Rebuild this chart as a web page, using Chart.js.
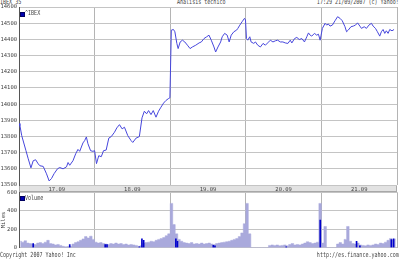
<!DOCTYPE html>
<html>
<head>
<meta charset="utf-8">
<script src="https://cdn.jsdelivr.net/npm/chart.js@4.4.1/dist/chart.umd.min.js"></script>
<style>
  body { margin:0; width:400px; height:259px; position:relative; background:#fff; overflow:hidden; }
  .caja { position:absolute; left:0; width:400px; }
  .t { position:absolute; font:7px 'DejaVu Sans Mono', monospace; line-height:7px; color:#444; white-space:nowrap; transform:scaleX(0.72); }
  .izq { transform-origin:left top; }
  .der { transform-origin:right top; }
  .cen { transform-origin:center top; }
  .cuadro { position:absolute; width:3px; height:3px; background:#0000b0; border:0.5px solid #000060; }
</style>
</head>
<body>
<div class="t izq" style="left:0;top:-1px">IBEX 35</div>
<div class="t cen" style="left:168px;top:-1px;width:64px;text-align:center">Análisis técnico</div>
<div class="t der" style="right:1px;top:-1px">17:29 21/09/2007 (c) Yahoo!</div>

<div class="caja" style="top:0;height:193px"><canvas id="graficoPrecio"></canvas></div>
<div class="caja" style="top:187px;height:66px"><canvas id="graficoVolumen"></canvas></div>

<div class="cuadro" style="left:20px;top:12px"></div>
<div class="t izq" style="left:25px;top:10px">^IBEX</div>
<div class="cuadro" style="left:20px;top:196px"></div>
<div class="t izq" style="left:25px;top:195px">Volume</div>

<div class="t izq" style="left:0;top:252px">Copyright 2007 Yahoo! Inc</div>
<div class="t der" style="right:1px;top:252px">http://es.finance.yahoo.com</div>

<script>
// días de la semana (una banda por sesión)
const dias = ['17.09', '18.09', '19.09', '20.09', '21.09'];
const ejePrecio = [13500, 13600, 13700, 13800, 13900, 14000, 14100, 14200, 14300, 14400, 14500, 14600];
const ejeVolumen = [0, 200, 400, 600];

// cotización intradía: tiempo en sesiones (0 = apertura del 17.09)
const precioTiempo = [
  0.000, 0.012, 0.036, 0.092, 0.122, 0.158, 0.188, 0.220, 0.254, 0.276, 0.320, 0.364, 0.399, 0.430, 0.464, 0.509,
  0.539, 0.583, 0.628, 0.649, 0.671, 0.714, 0.750, 0.780, 0.803, 0.846, 0.868, 0.891, 0.912, 0.947, 0.978, 1.000,
  1.025, 1.055, 1.088, 1.118, 1.153, 1.188, 1.220, 1.263, 1.294, 1.329, 1.364, 1.395, 1.439, 1.483, 1.505, 1.549,
  1.592, 1.627, 1.658, 1.688, 1.714, 1.746, 1.776, 1.812, 1.846, 1.878, 1.912, 1.943, 1.974, 1.996,
  2.015, 2.043, 2.062, 2.088, 2.105, 2.132, 2.162, 2.193, 2.228, 2.263, 2.293, 2.338, 2.382, 2.412, 2.447, 2.483,
  2.513, 2.543, 2.579, 2.601, 2.632, 2.667, 2.688, 2.720, 2.754, 2.780, 2.807, 2.842, 2.878, 2.895, 2.921, 2.951, 2.983, 2.996,
  3.009, 3.026, 3.053, 3.070, 3.105, 3.128, 3.158, 3.193, 3.228, 3.259, 3.289, 3.325, 3.359, 3.391, 3.421, 3.457,
  3.491, 3.522, 3.557, 3.588, 3.609, 3.645, 3.675, 3.707, 3.741, 3.776, 3.807, 3.829, 3.851, 3.872, 3.908, 3.938, 3.961, 3.983, 3.996,
  4.013, 4.049, 4.070, 4.092, 4.114, 4.145, 4.180, 4.214, 4.246, 4.276, 4.312, 4.333, 4.355, 4.391, 4.421, 4.451,
  4.478, 4.509, 4.530, 4.566, 4.596, 4.628, 4.662, 4.684, 4.715, 4.741, 4.772, 4.793, 4.816, 4.838, 4.859, 4.882, 4.904, 4.934, 4.961
];
const precioValor = [
  13880, 13867, 13805, 13712, 13662, 13606, 13650, 13656, 13631, 13619, 13615, 13569, 13525, 13540, 13570, 13600,
  13608, 13600, 13612, 13639, 13622, 13650, 13693, 13720, 13708, 13760, 13774, 13797, 13755, 13712, 13708, 13712,
  13632, 13681, 13675, 13712, 13716, 13790, 13799, 13826, 13853, 13873, 13847, 13857, 13805, 13774, 13763, 13790,
  13799, 13915, 13956, 13940, 13960, 13935, 13960, 13919, 13956, 13981, 14006, 14022, 14033, 14039,
  14457, 14461, 14447, 14375, 14343, 14384, 14395, 14384, 14364, 14343, 14353, 14364, 14378, 14384, 14405, 14416,
  14426, 14395, 14353, 14322, 14353, 14384, 14416, 14437, 14426, 14384, 14426, 14447, 14457, 14468, 14488, 14509, 14530, 14520,
  14405, 14395, 14416, 14384, 14375, 14384, 14364, 14353, 14375, 14364, 14378, 14395, 14384, 14391, 14395, 14384,
  14384, 14378, 14375, 14395, 14378, 14405, 14412, 14399, 14405, 14384, 14416, 14440, 14426, 14420, 14437, 14426, 14432, 14395, 14426,
  14468, 14499, 14488, 14495, 14482, 14488, 14515, 14540, 14530, 14515, 14478, 14447, 14457, 14478, 14482, 14488,
  14502, 14482, 14468, 14478, 14468, 14488, 14499, 14482, 14468, 14447, 14420, 14447, 14461, 14437, 14453, 14437, 14461, 14453, 14461
];

// volumen en miles, 30 tramos por sesión
const vol17 = [70, 60, 75, 50, 45, 40, 35, 50, 55, 45, 60, 80, 45, 40, 30, 35, 25, 15, 10, 12, 15, 40, 55, 65, 80, 95, 120, 105, 125, 90];
const vol18 = [60, 50, 55, 45, 40, 35, 45, 40, 50, 40, 45, 35, 40, 30, 35, 30, 25, 15, 20, 50, 55, 60, 70, 65, 80, 90, 100, 110, 130, 150];
const vol19 = [480, 250, 150, 90, 70, 55, 50, 45, 55, 40, 45, 40, 50, 40, 45, 50, 40, 35, 45, 50, 55, 60, 65, 70, 80, 90, 100, 120, 160, 260];
const vol20 = [480, 150, 0, 0, 0, 0, 0, 0, 0, 25, 30, 25, 30, 20, 25, 30, 20, 35, 45, 30, 35, 30, 40, 50, 65, 55, 45, 50, 60, 480];
const vol21 = [50, 230, 0, 0, 0, 0, 40, 55, 40, 90, 230, 70, 45, 40, 50, 30, 25, 20, 30, 25, 30, 40, 35, 50, 45, 60, 80, 100, 85, 95];
// barras destacadas (azul oscuro)
const oscuroTiempo = [0.188, 0.671, 1.140, 1.164, 1.592, 1.626, 1.649, 2.075, 2.096, 2.570, 2.592, 3.535, 3.985, 4.465, 4.509, 4.925, 4.955];
const oscuroValor = [44, 34, 34, 34, 10, 96, 79, 96, 68, 27, 20, 10, 300, 68, 20, 89, 96];

Chart.defaults.font.family = "'DejaVu Sans Mono', monospace";
Chart.defaults.font.size = 5.5;
Chart.defaults.color = '#444';
Chart.defaults.animation = false;

const rejilla = '#c4c4c4';
const rejillaDia = '#b4b4b4';

// banda gris con las fechas entre los dos paneles
const bandaFechas = {
  id: 'bandaFechas',
  beforeDraw(chart) {
    const { ctx, chartArea } = chart;
    ctx.save();
    ctx.fillStyle = '#e2e2e2';
    ctx.fillRect(chartArea.left, chartArea.bottom, chartArea.right - chartArea.left, 6);
    ctx.strokeStyle = '#a8a8a8';
    ctx.lineWidth = 1;
    ctx.strokeRect(chartArea.left + 0.5, chartArea.bottom + 0.5, chartArea.right - chartArea.left - 1, 6);
    ctx.restore();
  }
};

const puntosPrecio = precioTiempo.map((t, i) => ({ x: t, y: precioValor[i] }));

new Chart(document.getElementById('graficoPrecio'), {
  type: 'line',
  data: {
    datasets: [{
      data: puntosPrecio,
      borderColor: '#4646dc',
      borderWidth: 1,
      pointRadius: 0,
      tension: 0
    }]
  },
  options: {
    responsive: true,
    maintainAspectRatio: false,
    layout: { padding: { top: 7, right: 3, left: 0, bottom: 0 } },
    plugins: { legend: { display: false }, tooltip: { enabled: false } },
    scales: {
      x: {
        type: 'linear', min: 0, max: 5, position: 'bottom',
        afterBuildTicks: s => { s.ticks = [0, 1, 2, 3, 4, 5].map(v => ({ value: v })); },
        afterFit: s => { s.height = 0; },
        ticks: { display: false },
        grid: { color: rejillaDia, drawTicks: false },
        border: { display: false }
      },
      xf: {
        type: 'linear', min: 0, max: 5, position: 'bottom',
        afterBuildTicks: s => { s.ticks = dias.map((d, i) => ({ value: i + 0.5 })); },
        afterFit: s => { s.height = 8; },
        ticks: { callback: (v, i) => dias[i], padding: 1, maxRotation: 0, autoSkip: false },
        grid: { display: false, drawTicks: false },
        border: { display: false }
      },
      y: {
        min: 13500, max: 14600,
        afterBuildTicks: s => { s.ticks = ejePrecio.map(v => ({ value: v })); },
        afterFit: s => { s.width = 19; },
        ticks: { padding: 2, callback: v => String(v) },
        grid: { color: rejilla, drawTicks: false },
        border: { color: '#555' }
      }
    }
  },
  plugins: [bandaFechas]
});

const diasVol = [vol17, vol18, vol19, vol20, vol21];
const puntosVol = [];
diasVol.forEach((serie, d) => serie.forEach((v, i) => puntosVol.push({ x: d + (i + 0.5) / serie.length, y: v })));
const puntosOscuro = oscuroTiempo.map((t, i) => ({ x: t, y: oscuroValor[i] }));

new Chart(document.getElementById('graficoVolumen'), {
  type: 'bar',
  data: {
    datasets: [
      { type: 'bar', data: puntosOscuro, backgroundColor: '#0000cc', barThickness: 1, grouped: false },
      {
        type: 'line', data: puntosVol, stepped: 'middle', fill: 'origin',
        backgroundColor: '#a9a9dc', borderColor: '#a9a9dc', borderWidth: 0.5, pointRadius: 0
      }
    ]
  },
  options: {
    responsive: true,
    maintainAspectRatio: false,
    layout: { padding: { top: 5, right: 3, left: 0, bottom: 2 } },
    plugins: { legend: { display: false }, tooltip: { enabled: false } },
    scales: {
      x: {
        type: 'linear', min: 0, max: 5, offset: false,
        afterBuildTicks: s => { s.ticks = [0, 1, 2, 3, 4, 5].map(v => ({ value: v })); },
        afterFit: s => { s.height = 0; },
        ticks: { display: false },
        grid: { color: rejillaDia, drawTicks: false, offset: false },
        border: { display: false }
      },
      y: {
        min: 0, max: 600,
        afterBuildTicks: s => { s.ticks = ejeVolumen.map(v => ({ value: v })); },
        afterFit: s => { s.width = 19; },
        ticks: { padding: 2, callback: v => String(v) },
        title: { display: true, text: 'Miles', padding: 0, font: { size: 5.5 } },
        grid: { color: rejilla, drawTicks: false },
        border: { color: '#555' }
      }
    }
  }
});
</script>
</body>
</html>
